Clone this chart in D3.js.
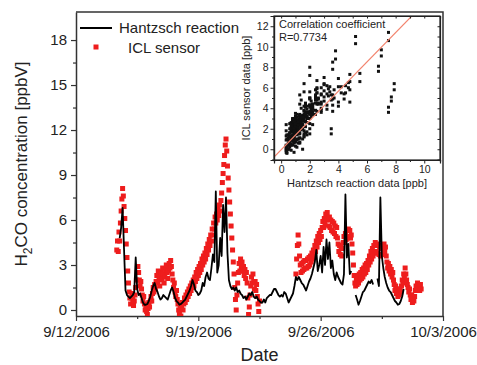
<!DOCTYPE html>
<html>
<head>
<meta charset="utf-8">
<script src="https://cdn.jsdelivr.net/npm/d3@7"></script>
<style>
  body { margin: 0; background: #fff; }
  svg { font-family: "Liberation Sans", Arial, sans-serif; }
</style>
</head>
<body>
<div id="chart"></div>
<script>
// First reading 9/14/2006 08:00
var startTime = new Date(2006, 8, 14, 8);
var hantzschStepHours = 2;
var iclStepHours = 1;

// Hantzsch reaction [ppbV], every 2 h (null = no data)
var hantzsch = [
  null, null, 4.8, 5.5, 6.8, 4.0, 1.3, 1.0,
  0.9, 0.8, 0.9, 1.0, 1.2, 3.5, 1.4, 1.0, 1.1, 0.8, 0.5, 0.35,
  0.35, 0.4, 0.6, 0.9, 1.3, 1.6, 1.8, 1.4, 1.2, 0.9, 0.7, 0.8,
  1.0, 0.9, 0.8, 0.7, 1.0, 1.3, 1.5, 1.2, 0.8, 0.6, 0.5, 0.35,
  0.4, 0.5, 0.6, 0.7, 0.9, 1.1, 1.3, 1.6, 2.0, 1.7, 1.3, 1.2,
  1.0, 1.1, 1.3, 1.8, 1.6, 2.2, 2.5, 2.1, 2.0, 2.8, 3.7, 3.2,
  7.9, 2.5, 3.0, 4.8, 3.6, 7.0, 5.2, 7.5, 3.8, 2.0, 1.6, 1.4,
  1.5, 1.3, 1.5, 1.2, 1.3, 1.1, 1.0, 0.8, 0.9, 0.7, 0.9, 1.1,
  1.0, 1.2, 0.9, 0.8, 0.9, 0.7, 0.6, 0.5, 0.5, 0.7, 0.5, 0.8,
  0.9, 1.0, 1.0, 1.2, 1.4, 1.4, 1.2, 1.0, 0.9, 1.0, 0.9, 1.2,
  1.1, 0.8, 0.5, 0.7, 0.9, 1.1, 1.6, 2.2, 2.0, 2.2, 2.0, 1.8,
  1.7, 1.5, 1.3, 1.6, 1.9, 2.1, 2.4, 2.8, 3.2, 4.0, 2.6, 3.0,
  3.6, 2.5, 4.2, 3.0, 4.7, 3.4, 4.5, 2.8, 3.3, 2.4, 2.0, 2.5,
  2.2, 2.0, 1.8, 1.7, 2.4, 7.7, 3.5, 4.4, 2.4, 2.6, null, null,
  1.0, 0.7, 0.35, 0.6, 0.9, 1.2, 1.3, 1.5, 1.7, 1.9, 1.8, 2.0,
  1.7, null, null, 2.1, 1.6, 7.5, 3.6, 2.8, 2.2, 1.8, 1.5, 1.3,
  1.2, 1.0, 0.8, 0.6, 0.5, 0.35, 0.4, 0.6, 0.9, 1.4, null, null,
  null, null, null, null, null, null, null, null, null, null
];

// ICL sensor [ppbV], every 1 h
var iclSensor = [
  4.0, 4.6, 3.9, 5.2, 4.6, 5.8, 6.6, 7.4, 8.1, 7.6, 6.9, 6.1, 5.3, 4.4, 3.5, 2.6,
  1.8, 1.2, 0.8, 0.4, 0.8, 1.1, 0.7, 0.3, 0.6, 1.0, 1.5, 2.0, 2.5, 2.9, 2.5, 2.0, 1.6, 1.9, 1.4, 1.0, 0.6, 0.9, 0.4, 0.0,
  0.3, -0.1, -0.3, 0.1, 0.5, 0.2, 0.6, 0.9, 0.6, 1.1, 1.5, 1.2, 1.7, 1.4, 1.9, 2.3, 1.8, 2.6, 2.2, 1.6, 2.0, 2.5, 2.1, 2.8,
  2.4, 1.8, 2.2, 2.7, 3.0, 2.5, 2.1, 2.6, 3.1, 2.8, 3.3, 2.9, 2.4, 2.0, 1.5, 1.8, 1.2, 0.9, 1.3, 0.7, 0.4, 0.0, -0.3, 0.2,
  -0.4, 0.1, 0.5, 0.0, 0.4, 0.8, 0.5, 1.0, 0.7, 1.2, 0.9, 1.4, 1.1, 1.6, 1.3, 1.8, 1.5, 2.0, 1.6, 2.2, 1.9, 2.5, 2.1, 2.7,
  2.3, 2.9, 2.5, 3.1, 2.7, 3.4, 3.0, 3.6, 3.2, 3.8, 3.4, 4.1, 3.7, 4.4, 4.0, 4.7, 4.3, 5.0, 4.6, 5.4, 5.0, 5.8, 5.4, 6.2,
  5.8, 6.4, 6.0, 6.7, 6.3, 7.0, 6.6, 7.3, 7.8, 8.5, 9.1, 9.7, 10.3, 11.0, 11.4, 10.6, 9.6, 8.8, 8.0, 7.2, 6.4, 5.6, 4.8, 4.0,
  3.2, 2.4, 1.5, 0.7, 0.0, 1.0, 1.8, 2.5, 3.1, 2.6, 3.4, 2.8, 3.2, 2.6, 2.9, 2.3, 2.7, 2.1, 2.5, 1.8, 0.8, -0.3, 0.2, 1.0,
  1.6, 2.2, 1.8, 2.4, 1.9, 1.4, 1.9, 1.3, 1.7, 0.9, 0.4, -0.1, 0.6, null, null, null, null, null, null, null, null, null, null, null,
  null, null, null, null, null, null, null, null, null, null, null, null, null, null, null, null, null, null, null, null, null, null, null, null,
  null, null, null, null, null, null, null, null, null, null, null, null, null, null, 2.4, 3.4, 4.3, 5.0, 4.4, 3.6, 3.0, 2.5, 3.1, 2.6,
  3.2, 2.7, 3.3, 2.8, 3.3, 2.8, 3.4, 2.9, 3.5, 3.0, 3.6, 3.2, 3.8, 3.4, 4.0, 3.6, 4.3, 3.9, 4.6, 4.2, 4.9, 4.5, 5.1, 4.7,
  5.3, 4.9, 5.5, 5.9, 5.5, 6.1, 5.7, 6.4, 6.0, 6.5, 6.1, 5.6, 6.2, 5.5, 6.0, 5.3, 5.9, 5.2, 5.8, 5.1, 5.6, 4.9, 5.5, 4.8,
  4.4, 3.9, 4.3, 3.7, 4.2, 3.6, 4.1, 4.5, 4.9, 4.5, 5.1, 4.7, 5.3, 4.8, 5.4, 4.9, 5.3, 4.8, 5.0, 4.4, 3.8, 3.0, 2.3, 1.8,
  1.6, 2.1, 1.7, 2.3, 1.8, 2.4, 2.0, 2.5, 2.1, 2.7, 2.2, 2.8, 2.4, 3.0, 2.5, 3.1, 2.7, 3.3, 3.0, 3.6, 3.2, 3.9, 3.4, 4.1,
  3.6, 4.3, 3.8, 4.5, 3.9, 4.4, 3.8, 4.3, 3.7, 4.2, 3.6, 4.1, 3.7, 4.3, 3.8, 4.4, 3.9, 4.2, 3.6, 3.2, 2.8, 3.1, 2.6, 2.9,
  2.4, 2.7, 2.2, 2.5, 2.0, 1.7, 1.3, 1.6, 1.1, 1.4, 0.9, 1.3, 1.0, 1.4, 1.2, 1.6, 2.0, 1.8, 2.4, 2.1, 2.8, 2.4, 2.0, 1.7,
  1.5, 1.2, 1.4, 1.0, 0.7, 1.0, 0.5, 0.8, 0.6, 0.9, 1.3, 1.6, 1.3, 1.8, 1.4, 1.7, 1.3, 1.7, 1.4
];

var dateTicks = ["9/12/2006", "9/19/2006", "9/26/2006", "10/3/2006"];
var concTicks = [0, 3, 6, 9, 12, 15, 18];
var insetTicks = [0, 2, 4, 6, 8, 10];
var insetYTicks = [0, 2, 4, 6, 8, 10, 12];
var fitSlope = 1.43;
var fitIntercept = -0.06;
var corrLines = ["Correlation coefficient", "R=0.7734"];
var legendNames = ["Hantzsch reaction", "ICL sensor"];

var parseDate = d3.timeParse("%m/%d/%Y");
var formatDate = d3.timeFormat("%-m/%-d/%Y");
var hourMs = 3600 * 1000;

var hRows = hantzsch.map((v, i) => ({
  time: new Date(startTime.getTime() + i * hantzschStepHours * hourMs), value: v
}));
var iclRows = iclSensor.map((v, i) => ({
  time: new Date(startTime.getTime() + i * iclStepHours * hourMs), value: v
}));

// SVG and plot frame
var svgWidth = 477, svgHeight = 365;
var margin = {top: 12, right: 34, bottom: 49, left: 76};
var width = svgWidth - margin.left - margin.right;
var height = svgHeight - margin.top - margin.bottom;

var svg = d3.select("#chart").append("svg")
  .attr("width", svgWidth)
  .attr("height", svgHeight);

var chartGroup = svg.append("g")
  .attr("transform", `translate(${margin.left}, ${margin.top})`);

var majorDates = dateTicks.map(parseDate);
var xScale = d3.scaleTime()
  .domain([majorDates[0], majorDates[majorDates.length - 1]])
  .range([0, width]);
var yScale = d3.scaleLinear()
  .domain([-0.4, 19.87])
  .range([height, 0]);

var axisColor = "#333";

// minor ticks
var minorDates = d3.pairs(majorDates).map(p => new Date((+p[0] + +p[1]) / 2));
var minorConc = d3.pairs(concTicks).map(p => (p[0] + p[1]) / 2);

chartGroup.append("g")
  .attr("transform", `translate(0, ${height})`)
  .call(d3.axisBottom(xScale).tickValues(minorDates).tickSize(3).tickFormat(""))
  .call(g => g.select(".domain").remove());
chartGroup.append("g")
  .call(d3.axisLeft(yScale).tickValues(minorConc).tickSize(3).tickFormat(""))
  .call(g => g.select(".domain").remove());

var xAxis = chartGroup.append("g")
  .attr("transform", `translate(0, ${height})`)
  .call(d3.axisBottom(xScale).tickValues(majorDates).tickSize(5).tickSizeOuter(0)
    .tickPadding(5).tickFormat(formatDate));
var yAxis = chartGroup.append("g")
  .call(d3.axisLeft(yScale).tickValues(concTicks).tickSize(5).tickSizeOuter(0)
    .tickPadding(4));

[xAxis, yAxis].forEach(function(a) {
  a.selectAll("text").style("font-size", "15px").attr("fill", "#222");
});
chartGroup.selectAll(".tick line").attr("stroke", axisColor).attr("stroke-width", 1.2);
chartGroup.selectAll(".domain").attr("stroke", axisColor).attr("stroke-width", 1.5);

// top and right frame lines
chartGroup.append("path")
  .attr("d", `M0,0H${width}V${height}`)
  .attr("fill", "none")
  .attr("stroke", axisColor)
  .attr("stroke-width", 1.5);

// clip the series to the plot area
var defs = svg.append("defs");
defs.append("clipPath").attr("id", "plotClip")
  .append("rect").attr("x", 0).attr("y", 0).attr("width", width).attr("height", height);

var seriesGroup = chartGroup.append("g").attr("clip-path", "url(#plotClip)");

var redColor = "#ee1d1d";
var sq = 5;

seriesGroup.selectAll("rect.icl")
  .data(iclRows.filter(d => d.value !== null))
  .enter()
  .append("rect")
  .attr("class", "icl")
  .attr("x", d => xScale(d.time) - sq / 2)
  .attr("y", d => yScale(d.value) - sq / 2)
  .attr("width", sq)
  .attr("height", sq)
  .attr("fill", redColor);

var line = d3.line()
  .defined(d => d.value !== null)
  .x(d => xScale(d.time))
  .y(d => yScale(d.value));

seriesGroup.append("path")
  .datum(hRows)
  .attr("d", line)
  .attr("fill", "none")
  .attr("stroke", "#000")
  .attr("stroke-width", 1.8)
  .attr("stroke-linejoin", "round");

// Axis titles
var yTitle = svg.append("text")
  .attr("transform", `translate(27, ${margin.top + height / 2}) rotate(-90)`)
  .attr("text-anchor", "middle")
  .style("font-size", "17px")
  .attr("fill", "#222");
yTitle.append("tspan").text("H");
yTitle.append("tspan").text("2").attr("dy", 5).style("font-size", "12px");
yTitle.append("tspan").text("CO concentration [ppbV]").attr("dy", -5);

svg.append("text")
  .attr("x", margin.left + width / 2)
  .attr("y", 361)
  .attr("text-anchor", "middle")
  .style("font-size", "18px")
  .attr("fill", "#222")
  .text("Date");

// Legend
svg.append("line")
  .attr("x1", 80).attr("x2", 112)
  .attr("y1", 28).attr("y2", 28)
  .attr("stroke", "#000").attr("stroke-width", 2);
svg.append("text")
  .attr("x", 119).attr("y", 33)
  .style("font-size", "15px").attr("fill", "#222")
  .text(legendNames[0]);
svg.append("rect")
  .attr("x", 96 - 2.5).attr("y", 47 - 2.5)
  .attr("width", 5).attr("height", 5)
  .attr("fill", redColor);
svg.append("text")
  .attr("x", 128).attr("y", 53)
  .style("font-size", "15px").attr("fill", "#222")
  .text(legendNames[1]);

// Inset: correlation plot (ICL reading vs Hantzsch value of the same 2 h slot)
var inset = {left: 274, right: 440, top: 16, bottom: 160};
var ix = d3.scaleLinear().domain([-0.5, 11.1]).range([inset.left, inset.right]);
var iy = d3.scaleLinear().domain([-1.05, 13]).range([inset.bottom, inset.top]);

var pairs = [];
iclSensor.forEach(function(v, j) {
  var h = hantzsch[Math.floor(j * iclStepHours / hantzschStepHours)];
  if (v !== null && h !== null && h !== undefined) pairs.push({h: h, icl: v});
});

var insetGroup = svg.append("g");
insetGroup.append("rect")
  .attr("x", inset.left).attr("y", inset.top)
  .attr("width", inset.right - inset.left)
  .attr("height", inset.bottom - inset.top)
  .attr("fill", "#fff");

defs.append("clipPath").attr("id", "insetClip")
  .append("rect")
  .attr("x", inset.left).attr("y", inset.top)
  .attr("width", inset.right - inset.left)
  .attr("height", inset.bottom - inset.top);

var dotGroup = insetGroup.append("g").attr("clip-path", "url(#insetClip)");
dotGroup.selectAll("rect")
  .data(pairs)
  .enter()
  .append("rect")
  .attr("x", d => ix(d.h) - 1.5)
  .attr("y", d => iy(d.icl) - 1.5)
  .attr("width", 3)
  .attr("height", 3)
  .attr("fill", "#111");

dotGroup.append("line")
  .attr("x1", ix(-0.5)).attr("y1", iy(fitSlope * -0.5 + fitIntercept))
  .attr("x2", ix(10)).attr("y2", iy(fitSlope * 10 + fitIntercept))
  .attr("stroke", "#f2846e")
  .attr("stroke-width", 1.2);

var minorInsetX = d3.range(1, 11, 2);
var minorInsetY = d3.range(-1, 13, 2);

insetGroup.append("g")
  .attr("transform", `translate(0, ${inset.bottom})`)
  .call(d3.axisBottom(ix).tickValues(minorInsetX).tickSize(2).tickFormat(""));
insetGroup.append("g")
  .attr("transform", `translate(${inset.left}, 0)`)
  .call(d3.axisLeft(iy).tickValues(minorInsetY).tickSize(2).tickFormat(""));
insetGroup.append("g")
  .attr("transform", `translate(0, ${inset.top})`)
  .call(d3.axisBottom(ix).tickValues(insetTicks.concat(minorInsetX)).tickSize(2.5).tickFormat(""));
insetGroup.append("g")
  .attr("transform", `translate(${inset.right}, 0)`)
  .call(d3.axisLeft(iy).tickValues(insetYTicks.concat(minorInsetY)).tickSize(2.5).tickFormat(""));

insetGroup.append("g")
  .attr("transform", `translate(0, ${inset.bottom})`)
  .call(d3.axisBottom(ix).tickValues(insetTicks).tickSize(3.5).tickPadding(2));
insetGroup.append("g")
  .attr("transform", `translate(${inset.left}, 0)`)
  .call(d3.axisLeft(iy).tickValues(insetYTicks).tickSize(3.5).tickPadding(2));

insetGroup.selectAll(".domain").attr("stroke", "#222").attr("stroke-width", 1.2);
insetGroup.selectAll(".tick line").attr("stroke", "#222");
insetGroup.selectAll(".tick text").style("font-size", "10.5px").attr("fill", "#222");

insetGroup.append("rect")
  .attr("x", inset.left).attr("y", inset.top)
  .attr("width", inset.right - inset.left)
  .attr("height", inset.bottom - inset.top)
  .attr("fill", "none")
  .attr("stroke", "#222")
  .attr("stroke-width", 1.2);

insetGroup.selectAll("text.corr")
  .data(corrLines)
  .enter()
  .append("text")
  .attr("class", "corr")
  .attr("x", 279)
  .attr("y", (d, i) => 27.5 + i * 13)
  .style("font-size", "11px")
  .attr("fill", "#222")
  .text(d => d);

insetGroup.append("text")
  .attr("x", (inset.left + inset.right) / 2)
  .attr("y", 187)
  .attr("text-anchor", "middle")
  .style("font-size", "11px")
  .attr("fill", "#222")
  .text("Hantzsch reaction data [ppb]");

insetGroup.append("text")
  .attr("transform", `translate(250, ${(inset.top + inset.bottom) / 2}) rotate(-90)`)
  .attr("text-anchor", "middle")
  .style("font-size", "11px")
  .attr("fill", "#222")
  .text("ICL sensor data [ppb]");
</script>
</body>
</html>
